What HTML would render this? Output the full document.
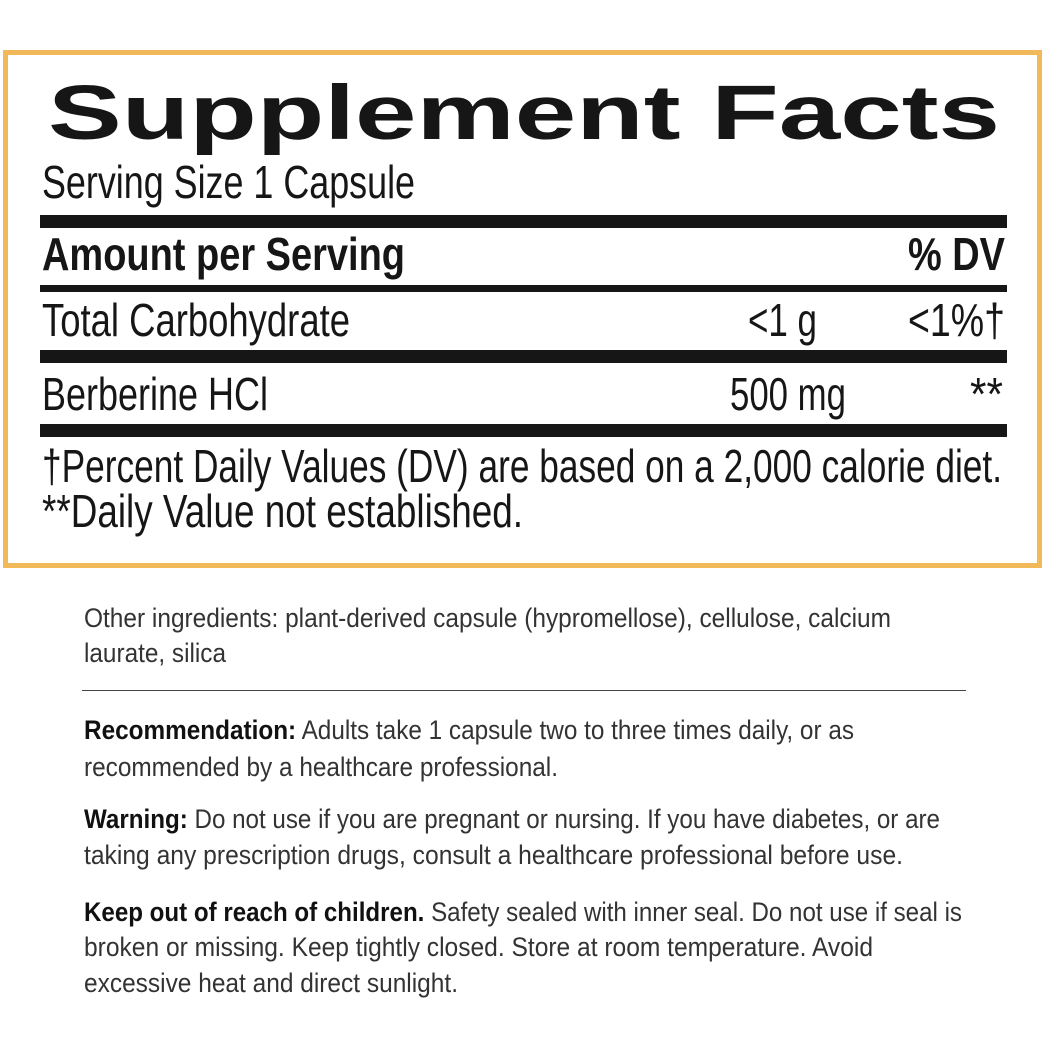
<!DOCTYPE html>
<html><head><meta charset="utf-8"><style>
html,body{margin:0;padding:0;background:#fff;}
body{width:1048px;height:1048px;position:relative;overflow:hidden;font-family:"Liberation Sans",sans-serif;}
.box{position:absolute;left:3px;top:50px;width:1029px;height:508px;border:5px solid #f2b95a;}
.bar{position:absolute;left:40px;width:967px;background:#161616;}
.l{position:absolute;white-space:nowrap;color:#161616;}
.l span{display:inline-block;transform-origin:0 0;}
.big{font-size:46px;line-height:46px;}
.sm{font-size:27px;line-height:27px;color:#333;}
.sm b{color:#111;}
.hr{position:absolute;left:82px;width:884px;top:690px;height:1px;background:#444;}
</style></head><body>
<div class="box"></div>
<div class="l" style="left:48px;top:75px;width:952px;font-size:77px;line-height:77px;font-weight:900;"><span><b>Supplement Facts</b></span></div>
<div class="l big" style="left:42px;top:159px;width:373px"><span>Serving Size 1 Capsule</span></div>
<div class="bar" style="top:215px;height:13px"></div>
<div class="l big" style="left:42px;top:231px;width:363px;font-weight:bold"><span>Amount per Serving</span></div>
<div class="l big" style="left:908px;top:231px;width:97px;font-weight:bold"><span>% DV</span></div>
<div class="bar" style="top:285px;height:7px"></div>
<div class="l big" style="left:42px;top:297px;width:308px"><span>Total Carbohydrate</span></div>
<div class="l big" style="left:748px;top:297px;width:69px"><span>&lt;1 g</span></div>
<div class="l big" style="left:908px;top:297px;width:97px"><span>&lt;1%†</span></div>
<div class="bar" style="top:350px;height:13px"></div>
<div class="l big" style="left:42px;top:371px;width:226px"><span>Berberine HCl</span></div>
<div class="l big" style="left:730px;top:371px;width:116px"><span>500 mg</span></div>
<div class="l big" style="left:970px;top:371px;width:33px"><span>**</span></div>
<div class="bar" style="top:424px;height:13px"></div>
<div class="l big" style="left:42px;top:443px;width:960px"><span>†Percent Daily Values (DV) are based on a 2,000 calorie diet.</span></div>
<div class="l big" style="left:42px;top:488px;width:481px"><span>**Daily Value not established.</span></div>

<div class="l sm" style="left:84px;top:605px;width:807px"><span>Other ingredients: plant-derived capsule (hypromellose), cellulose, calcium</span></div>
<div class="l sm" style="left:84px;top:640px;width:142px"><span>laurate, silica</span></div>
<div class="hr"></div>
<div class="l sm" style="left:84px;top:717px;width:770px"><span><b>Recommendation:</b> Adults take 1 capsule two to three times daily, or as</span></div>
<div class="l sm" style="left:84px;top:754px;width:474px"><span>recommended by a healthcare professional.</span></div>
<div class="l sm" style="left:84px;top:806px;width:856px"><span><b>Warning:</b> Do not use if you are pregnant or nursing. If you have diabetes, or are</span></div>
<div class="l sm" style="left:84px;top:842px;width:819px"><span>taking any prescription drugs, consult a healthcare professional before use.</span></div>
<div class="l sm" style="left:84px;top:899px;width:878px"><span><b>Keep out of reach of children.</b> Safety sealed with inner seal. Do not use if seal is</span></div>
<div class="l sm" style="left:84px;top:934px;width:789px"><span>broken or missing. Keep tightly closed. Store at room temperature. Avoid</span></div>
<div class="l sm" style="left:84px;top:970px;width:374px"><span>excessive heat and direct sunlight.</span></div>
<script>
document.querySelectorAll('.l').forEach(function(d){
  var s=d.firstElementChild; var w=parseFloat(d.style.width);
  var a=s.getBoundingClientRect().width;
  if(a>0){s.style.transform='scaleX('+(w/a)+')';}
});
</script>
</body></html>
